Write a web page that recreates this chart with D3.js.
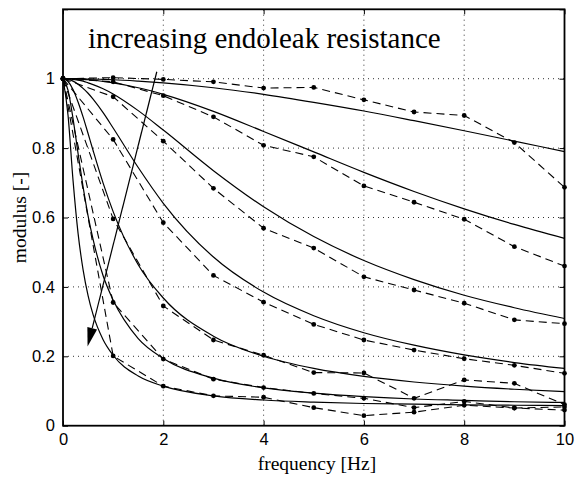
<!DOCTYPE html>
<html>
<head>
<meta charset="utf-8">
<script src="https://cdn.jsdelivr.net/npm/d3@7"></script>
<style>
  html, body { margin: 0; padding: 0; background: #fff; }
  svg { display: block; }
</style>
</head>
<body>
<svg id="chart" width="577" height="479"></svg>
<script>
// ---------- data ----------
const xTicks = [0, 2, 4, 6, 8, 10];
const xTickLabels = ["0", "2", "4", "6", "8", "10"];
const yTicks = [0, 0.2, 0.4, 0.6, 0.8, 1, 1.2];
const yTickLabels = ["0", "0.2", "0.4", "0.6", "0.8", "1", ""];

// measured frequencies (dashed, with dots)
const measFreq = [0, 1, 2, 3, 4, 5, 6, 7, 8, 9, 10];
const meas1 = [1, 1.003, 0.998, 0.991, 0.973, 0.975, 0.939, 0.904, 0.894, 0.816, 0.687];
const meas2 = [1, 0.991, 0.951, 0.890, 0.808, 0.775, 0.691, 0.644, 0.595, 0.516, 0.460];
const meas3 = [1, 0.948, 0.820, 0.684, 0.569, 0.512, 0.429, 0.391, 0.353, 0.305, 0.294];
const meas4 = [1, 0.825, 0.585, 0.433, 0.356, 0.292, 0.247, 0.218, 0.193, 0.174, 0.151];
const meas5 = [1, 0.596, 0.345, 0.247, 0.203, 0.153, 0.152, 0.079, 0.132, 0.122, 0.061];
const meas6 = [1, 0.355, 0.192, 0.134, 0.110, 0.093, 0.079, 0.052, 0.070, 0.051, 0.054];
const meas7 = [1, 0.201, 0.114, 0.086, 0.082, 0.052, 0.029, 0.039, 0.059, 0.051, 0.045];

// model curves (solid)
const modelFreq = [0, 0.1, 0.2, 0.3, 0.4, 0.5, 0.6, 0.8, 1, 1.5, 2, 3, 4, 5, 6, 7, 8, 9, 10];
const model1 = [1, 1, 1, 1, 1, 0.999, 0.999, 0.998, 0.997, 0.993, 0.988, 0.974, 0.955, 0.932, 0.907, 0.879, 0.850, 0.820, 0.790];
const model2 = [1, 1, 1, 0.999, 0.998, 0.997, 0.996, 0.992, 0.988, 0.974, 0.955, 0.906, 0.848, 0.789, 0.730, 0.675, 0.625, 0.580, 0.540];
const model3 = [1, 1, 0.998, 0.996, 0.993, 0.988, 0.983, 0.971, 0.956, 0.908, 0.852, 0.735, 0.631, 0.545, 0.476, 0.421, 0.376, 0.340, 0.309];
const model4 = [1, 0.998, 0.993, 0.984, 0.972, 0.958, 0.941, 0.902, 0.858, 0.744, 0.641, 0.486, 0.385, 0.317, 0.268, 0.232, 0.204, 0.182, 0.165];
const model5 = [1, 0.992, 0.969, 0.933, 0.890, 0.842, 0.793, 0.699, 0.617, 0.464, 0.368, 0.258, 0.200, 0.165, 0.142, 0.126, 0.114, 0.105, 0.098];
const model6 = [1, 0.967, 0.885, 0.785, 0.689, 0.605, 0.537, 0.432, 0.362, 0.251, 0.194, 0.137, 0.109, 0.094, 0.084, 0.077, 0.073, 0.069, 0.067];
const model7 = [1, 0.895, 0.707, 0.555, 0.450, 0.375, 0.320, 0.248, 0.203, 0.143, 0.114, 0.086, 0.074, 0.068, 0.064, 0.062, 0.060, 0.059, 0.058];

const measSeries = [meas1, meas2, meas3, meas4, meas5, meas6, meas7];
const modelSeries = [model1, model2, model3, model4, model5, model6, model7];

const annotationText = "increasing endoleak resistance";
const annotationPos = [0.5, 1.088];
const arrowFrom = [1.87, 1.02];
const arrowTo = [0.49, 0.228];
const xLabel = "frequency [Hz]";
const yLabel = "modulus [-]";

// ---------- layout ----------
const svg = d3.select("#chart");
const mLeft = 63, mRight = 564.5, mTop = 9.3, mBottom = 425.7;
const x = d3.scaleLinear().domain([0, 10]).range([mLeft, mRight]);
const y = d3.scaleLinear().domain([0, 1.2]).range([mBottom, mTop]);

const sans = "'Liberation Sans', Arial, Helvetica, sans-serif";
const serif = "'Liberation Serif', 'Times New Roman', serif";

// grid
const grid = svg.append("g").attr("stroke", "#333").attr("stroke-width", 1)
  .attr("stroke-dasharray", "1,4");
grid.selectAll("line.gx").data(xTicks.filter(d => d > 0 && d < 10)).enter()
  .append("line").attr("x1", d => x(d)).attr("x2", d => x(d))
  .attr("y1", y(0)).attr("y2", y(1.2));
grid.selectAll("line.gy").data(yTicks.filter(d => d > 0 && d < 1.2)).enter()
  .append("line").attr("x1", x(0)).attr("x2", x(10))
  .attr("y1", d => y(d)).attr("y2", d => y(d));

// model curves
const modelLine = d3.line().x(d => x(d[0])).y(d => y(d[1])).curve(d3.curveMonotoneX);
modelSeries.forEach(s => {
  svg.append("path")
    .datum(modelFreq.map((f, i) => [f, s[i]]))
    .attr("d", modelLine)
    .attr("fill", "none").attr("stroke", "#000").attr("stroke-width", 1.2);
});

// measured dashed
const measLine = d3.line().x(d => x(d[0])).y(d => y(d[1]));
measSeries.forEach(s => {
  const pts = measFreq.map((f, i) => [f, s[i]]);
  svg.append("path").datum(pts).attr("d", measLine)
    .attr("fill", "none").attr("stroke", "#000").attr("stroke-width", 1.1)
    .attr("stroke-dasharray", "8,5");
  svg.append("g").selectAll("circle").data(pts).enter().append("circle")
    .attr("cx", d => x(d[0])).attr("cy", d => y(d[1])).attr("r", 2.4)
    .attr("fill", "#000");
});

// axes (MATLAB-style box, inward ticks)
function styleAxis(g) {
  g.select(".domain").remove();
  g.selectAll(".tick line").attr("stroke", "#000").attr("stroke-width", 1);
  g.selectAll(".tick text").attr("font-family", sans).attr("font-size", 16.5).attr("fill", "#000");
}
svg.append("g").attr("transform", `translate(0,${mBottom})`)
  .call(d3.axisBottom(x).tickValues(xTicks).tickSizeInner(-5).tickSizeOuter(0).tickPadding(8)
    .tickFormat((d, i) => xTickLabels[i]))
  .call(styleAxis);
svg.append("g").attr("transform", `translate(0,${mTop})`)
  .call(d3.axisTop(x).tickValues(xTicks).tickSizeInner(-5).tickSizeOuter(0).tickFormat(""))
  .call(styleAxis);
svg.append("g").attr("transform", `translate(${mLeft},0)`)
  .call(d3.axisLeft(y).tickValues(yTicks).tickSizeInner(-5).tickSizeOuter(0).tickPadding(8)
    .tickFormat((d, i) => yTickLabels[i]))
  .call(styleAxis);
svg.append("g").attr("transform", `translate(${mRight},0)`)
  .call(d3.axisRight(y).tickValues(yTicks).tickSizeInner(-5).tickSizeOuter(0).tickFormat(""))
  .call(styleAxis);

svg.append("rect").attr("x", mLeft).attr("y", mTop)
  .attr("width", mRight - mLeft).attr("height", mBottom - mTop)
  .attr("fill", "none").attr("stroke", "#000").attr("stroke-width", 1.8);

// arrow
const ax0 = x(arrowFrom[0]), ay0 = y(arrowFrom[1]);
const ax1 = x(arrowTo[0]), ay1 = y(arrowTo[1]);
const ang = Math.atan2(ay1 - ay0, ax1 - ax0);
const headLen = 19, headW = 5;
const bx = ax1 - headLen * Math.cos(ang), by = ay1 - headLen * Math.sin(ang);
svg.append("line").attr("x1", ax0).attr("y1", ay0).attr("x2", bx).attr("y2", by)
  .attr("stroke", "#000").attr("stroke-width", 1.2);
svg.append("path")
  .attr("d", `M${ax1},${ay1}L${bx + headW * Math.sin(ang)},${by - headW * Math.cos(ang)}L${bx - headW * Math.sin(ang)},${by + headW * Math.cos(ang)}Z`)
  .attr("fill", "#000");

// annotation
svg.append("text").attr("x", x(annotationPos[0])).attr("y", y(annotationPos[1]))
  .attr("font-family", serif).attr("font-size", 29).attr("fill", "#000")
  .text(annotationText);

// axis labels
svg.append("text").attr("x", 317).attr("y", 470).attr("text-anchor", "middle")
  .attr("font-family", serif).attr("font-size", 19.5).attr("fill", "#000").text(xLabel);
svg.append("text").attr("transform", `translate(26,${(mTop + mBottom) / 2}) rotate(-90)`)
  .attr("text-anchor", "middle")
  .attr("font-family", serif).attr("font-size", 19.5).attr("fill", "#000").text(yLabel);
</script>
</body>
</html>
